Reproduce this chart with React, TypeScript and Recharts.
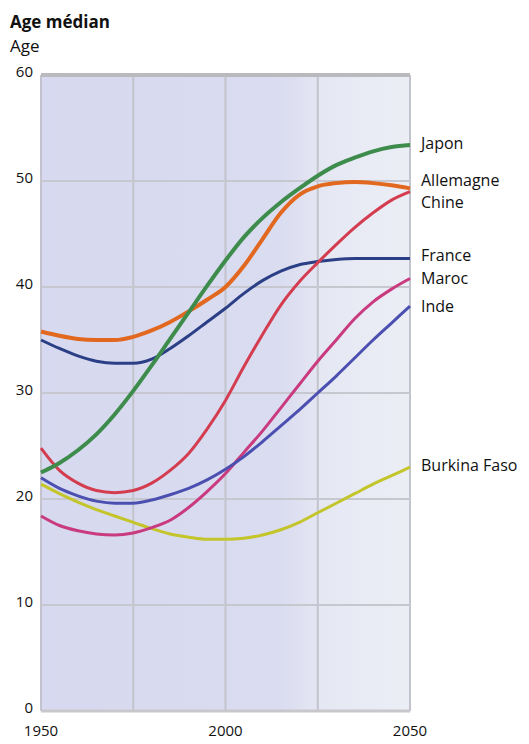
import { LineChart, Line, XAxis, YAxis, ReferenceArea, ReferenceLine } from 'recharts';

// Median age by country, 1950-2050 (every 5 years)
const years = [1950, 1955, 1960, 1965, 1970, 1975, 1980, 1985, 1990, 1995, 2000, 2005, 2010, 2015, 2020, 2025, 2030, 2035, 2040, 2045, 2050];

const japon = [22.5, 23.4, 24.6, 26.1, 28.0, 30.2, 32.6, 35.1, 37.6, 40.1, 42.5, 44.7, 46.5, 48.0, 49.3, 50.5, 51.5, 52.2, 52.8, 53.2, 53.4];
const allemagne = [35.8, 35.4, 35.1, 35.0, 35.0, 35.3, 35.9, 36.7, 37.7, 38.8, 40.0, 42.0, 44.5, 47.0, 48.7, 49.5, 49.8, 49.9, 49.8, 49.6, 49.3];
const chine = [24.8, 22.7, 21.5, 20.8, 20.6, 20.8, 21.5, 22.7, 24.3, 26.6, 29.3, 32.5, 35.5, 38.3, 40.5, 42.3, 44.0, 45.6, 47.0, 48.2, 49.0];
const france = [35.0, 34.2, 33.5, 33.0, 32.8, 32.8, 33.2, 34.2, 35.4, 36.7, 38.0, 39.4, 40.6, 41.5, 42.1, 42.4, 42.6, 42.7, 42.7, 42.7, 42.7];
const maroc = [18.4, 17.5, 17.0, 16.7, 16.6, 16.8, 17.3, 18.0, 19.2, 20.7, 22.4, 24.4, 26.4, 28.6, 30.8, 33.0, 35.0, 37.0, 38.6, 39.8, 40.8];
const inde = [22.0, 21.0, 20.3, 19.8, 19.6, 19.6, 19.9, 20.4, 21.0, 21.8, 22.8, 24.0, 25.4, 26.9, 28.4, 30.0, 31.6, 33.3, 35.0, 36.6, 38.2];
const burkina = [21.4, 20.5, 19.7, 19.0, 18.4, 17.8, 17.2, 16.7, 16.4, 16.2, 16.2, 16.3, 16.6, 17.1, 17.8, 18.7, 19.6, 20.5, 21.4, 22.2, 23.0];

const xTicks = [1950, 2000, 2050];
const yTicks = [0, 10, 20, 30, 40, 50, 60];
const gridYears = [1950, 1975, 2000, 2025, 2050];
const gridAges = [10, 20, 30, 40, 50];

const data = years.map((year, i) => ({
  year,
  japon: japon[i],
  allemagne: allemagne[i],
  chine: chine[i],
  france: france[i],
  maroc: maroc[i],
  inde: inde[i],
  burkina: burkina[i],
}));

const series = [
  { key: 'burkina', name: 'Burkina Faso', color: '#c3c52b', width: 3, dy: -2 },
  { key: 'maroc', name: 'Maroc', color: '#c93a7e', width: 3, dy: -1 },
  { key: 'inde', name: 'Inde', color: '#4b50b0', width: 3, dy: 0 },
  { key: 'france', name: 'France', color: '#2b3f86', width: 3, dy: -3 },
  { key: 'chine', name: 'Chine', color: '#d43c50', width: 3, dy: 10 },
  { key: 'allemagne', name: 'Allemagne', color: '#e2681f', width: 4, dy: -8 },
  { key: 'japon', name: 'Japon', color: '#3e8c4c', width: 4, dy: -2 },
];

const font = '"Open Sans", "Noto Sans", sans-serif';

function endLabel(name: string, dy: number) {
  return (props: any) => {
    if (props.index !== years.length - 1) return <g />;
    return (
      <text
        x={props.x + 11}
        y={props.y + dy}
        dominantBaseline="central"
        fontSize={16}
        fontFamily={font}
        fill="#111"
      >
        {name}
      </text>
    );
  };
}

export default function App() {
  return (
    <div style={{ position: 'absolute', left: 0, top: 0, width: 529, height: 744, background: '#fff', fontFamily: font }}>
      <div style={{ position: 'absolute', left: 10, top: 10, fontSize: 17, fontWeight: 700, color: '#111' }}>Age médian</div>
      <div style={{ position: 'absolute', left: 10, top: 34, fontSize: 17, color: '#111' }}>Age</div>
      <LineChart
        width={529}
        height={744}
        data={data}
        margin={{ top: 75, right: 119, left: 0, bottom: 0 }}
      >
        <defs>
          <linearGradient id="paper" x1="0" y1="0" x2="1" y2="0">
            <stop offset="0%" stopColor="#d6d9ef" />
            <stop offset="65%" stopColor="#dadcf0" />
            <stop offset="76%" stopColor="#e5e7f3" />
            <stop offset="100%" stopColor="#eceef6" />
          </linearGradient>
        </defs>
        <XAxis
          dataKey="year"
          type="number"
          domain={[1950, 2050]}
          ticks={xTicks}
          height={33}
          axisLine={false}
          tickLine={false}
          tickMargin={8}
          tick={{ fontSize: 15, fill: '#111', fontFamily: font }}
        />
        <YAxis
          type="number"
          domain={[0, 60]}
          ticks={yTicks}
          width={41}
          axisLine={false}
          tickLine={false}
          tickMargin={2}
          tick={{ fontSize: 15, fill: '#111', fontFamily: font, dy: -3 }}
        />
        <ReferenceArea x1={1950} x2={2050} y1={0} y2={60} fill="url(#paper)" fillOpacity={1} stroke="none" />
        {gridYears.map((y) => (
          <ReferenceLine key={'v' + y} x={y} stroke="#c2c3cc" strokeWidth={2} />
        ))}
        {gridAges.map((a) => (
          <ReferenceLine key={'h' + a} y={a} stroke="#c6c7cf" strokeWidth={2} />
        ))}
        <ReferenceLine y={0} stroke="#c8c8cc" strokeWidth={3} />
        <ReferenceLine y={60} stroke="#b9b9be" strokeWidth={4} />
        {series.map((s) => (
          <Line
            key={s.key}
            dataKey={s.key}
            name={s.name}
            type="monotone"
            stroke={s.color}
            strokeWidth={s.width}
            dot={false}
            isAnimationActive={false}
            label={endLabel(s.name, s.dy)}
          />
        ))}
      </LineChart>
    </div>
  );
}
